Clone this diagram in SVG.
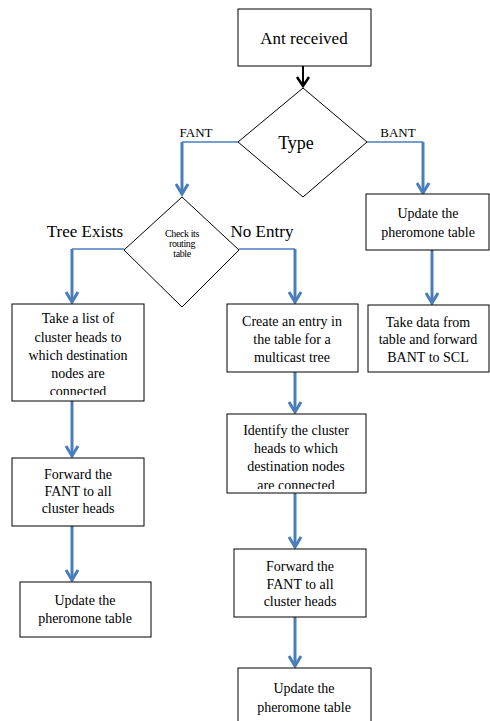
<svg xmlns="http://www.w3.org/2000/svg" width="490" height="721" viewBox="0 0 490 721">
<style>
.box{fill:#fff;stroke:#000;stroke-width:1}
.dia{fill:#fff;stroke:#000;stroke-width:1}
.h{fill:none;stroke:#4a7ebb;stroke-width:1.5}
.v{fill:none;stroke:#4a7ebb;stroke-width:3;marker-end:url(#ab)}
</style>
<defs>
<marker id="ab" markerUnits="userSpaceOnUse" viewBox="-12 -8 14 16" markerWidth="14" markerHeight="16" refX="0" refY="0" orient="auto" overflow="visible">
<path d="M-10,-6 L0,0 L-10,6" fill="none" stroke="#4a7ebb" stroke-width="3"/>
</marker>
<marker id="ak" markerUnits="userSpaceOnUse" viewBox="-12 -8 14 16" markerWidth="14" markerHeight="16" refX="0" refY="0" orient="auto" overflow="visible">
<path d="M-9,-6 L0,0 L-9,6" fill="none" stroke="#000" stroke-width="2.5"/>
</marker>
<clipPath id="c1"><rect x="12" y="304" width="132" height="91"/></clipPath>
<clipPath id="c2"><rect x="227" y="414" width="139" height="75"/></clipPath>
</defs>

<g id="connectors">
<line x1="303" y1="66" x2="303" y2="86" stroke="#000" stroke-width="2" marker-end="url(#ak)"/>
<polyline class="h" points="238,142 182,142"/>
<line class="v" x1="182" y1="142" x2="182" y2="194"/>
<polyline class="h" points="367,142 423,142"/>
<line class="v" x1="423" y1="142" x2="423" y2="193"/>
<polyline class="h" points="124,249 72,249"/>
<line class="v" x1="72" y1="249" x2="72" y2="302"/>
<polyline class="h" points="239,249 295,249"/>
<line class="v" x1="295" y1="249" x2="295" y2="302"/>
<line class="v" x1="432" y1="250" x2="432" y2="303"/>
<line class="v" x1="72" y1="401" x2="72" y2="456"/>
<line class="v" x1="72" y1="526" x2="72" y2="580"/>
<line class="v" x1="295" y1="372" x2="295" y2="412"/>
<line class="v" x1="295" y1="493" x2="295" y2="547"/>
<line class="v" x1="295" y1="617" x2="295" y2="666"/>
</g>

<g id="n-ant">
<rect class="box" x="238" y="9" width="133" height="57"/>
<text x="304" y="44" font-family="Liberation Serif" font-size="17" text-anchor="middle">Ant received</text>
</g>

<g id="n-type">
<polygon class="dia" points="303,88 367,142 303,197 238,142"/>
<text x="296" y="149" font-family="Liberation Serif" font-size="18" text-anchor="middle">Type</text>
</g>
<g id="l-fant"><text x="196" y="137" font-family="Liberation Serif" font-size="13" text-anchor="middle">FANT</text></g>
<g id="l-bant"><text x="398" y="137" font-family="Liberation Serif" font-size="13" text-anchor="middle">BANT</text></g>

<g id="n-check">
<polygon class="dia" points="182,197 239,250 182,307 124,250"/>
<text font-family="Liberation Serif" font-size="10" letter-spacing="-0.4" text-anchor="middle"><tspan x="182" y="237">Check its</tspan><tspan x="182" y="247">routing</tspan><tspan x="182" y="257">table</tspan></text>
</g>
<g id="l-tree"><text x="85" y="237" font-family="Liberation Serif" font-size="17" text-anchor="middle">Tree Exists</text></g>
<g id="l-noentry"><text x="262" y="237" font-family="Liberation Serif" font-size="17" text-anchor="middle">No Entry</text></g>

<g id="n-update-r">
<rect class="box" x="366" y="194" width="123" height="56"/>
<text font-family="Liberation Serif" font-size="14" text-anchor="middle"><tspan x="428" y="218">Update the</tspan><tspan x="428" y="237">pheromone table</tspan></text>
</g>

<g id="n-takedata">
<rect class="box" x="368" y="305" width="121" height="67"/>
<text font-family="Liberation Serif" font-size="14" text-anchor="middle"><tspan x="428" y="327">Take data from</tspan><tspan x="428" y="344">table and forward</tspan><tspan x="428" y="362">BANT to SCL</tspan></text>
</g>

<g id="n-takelist">
<rect class="box" x="12" y="304" width="132" height="97"/>
<text font-family="Liberation Serif" font-size="14" text-anchor="middle" clip-path="url(#c1)"><tspan x="78" y="323">Take a list of</tspan><tspan x="78" y="342">cluster heads to</tspan><tspan x="78" y="360">which destination</tspan><tspan x="78" y="378">nodes are</tspan><tspan x="78" y="396">connected</tspan></text>
</g>

<g id="n-forward-l">
<rect class="box" x="12" y="458" width="132" height="68"/>
<text font-family="Liberation Serif" font-size="14" text-anchor="middle"><tspan x="78" y="479">Forward the</tspan><tspan x="78" y="496">FANT to all</tspan><tspan x="78" y="513">cluster heads</tspan></text>
</g>

<g id="n-update-l">
<rect class="box" x="20" y="582" width="131" height="55"/>
<text font-family="Liberation Serif" font-size="14" text-anchor="middle"><tspan x="85" y="605">Update the</tspan><tspan x="85" y="623">pheromone table</tspan></text>
</g>

<g id="n-create">
<rect class="box" x="227" y="304" width="131" height="68"/>
<text font-family="Liberation Serif" font-size="14" text-anchor="middle"><tspan x="292" y="326">Create an entry in</tspan><tspan x="292" y="344">the table for a</tspan><tspan x="292" y="362">multicast tree</tspan></text>
</g>

<g id="n-identify">
<rect class="box" x="227" y="414" width="139" height="79"/>
<text font-family="Liberation Serif" font-size="14" text-anchor="middle" clip-path="url(#c2)"><tspan x="296" y="435">Identify the cluster</tspan><tspan x="296" y="453">heads to which</tspan><tspan x="296" y="471">destination nodes</tspan><tspan x="296" y="490">are connected</tspan></text>
</g>

<g id="n-forward-m">
<rect class="box" x="234" y="549" width="132" height="68"/>
<text font-family="Liberation Serif" font-size="14" text-anchor="middle"><tspan x="300" y="571">Forward the</tspan><tspan x="300" y="589">FANT to all</tspan><tspan x="300" y="606">cluster heads</tspan></text>
</g>

<g id="n-update-m">
<rect class="box" x="238" y="668" width="133" height="60"/>
<text font-family="Liberation Serif" font-size="14" text-anchor="middle"><tspan x="304" y="693">Update the</tspan><tspan x="304" y="712">pheromone table</tspan></text>
</g>
</svg>
